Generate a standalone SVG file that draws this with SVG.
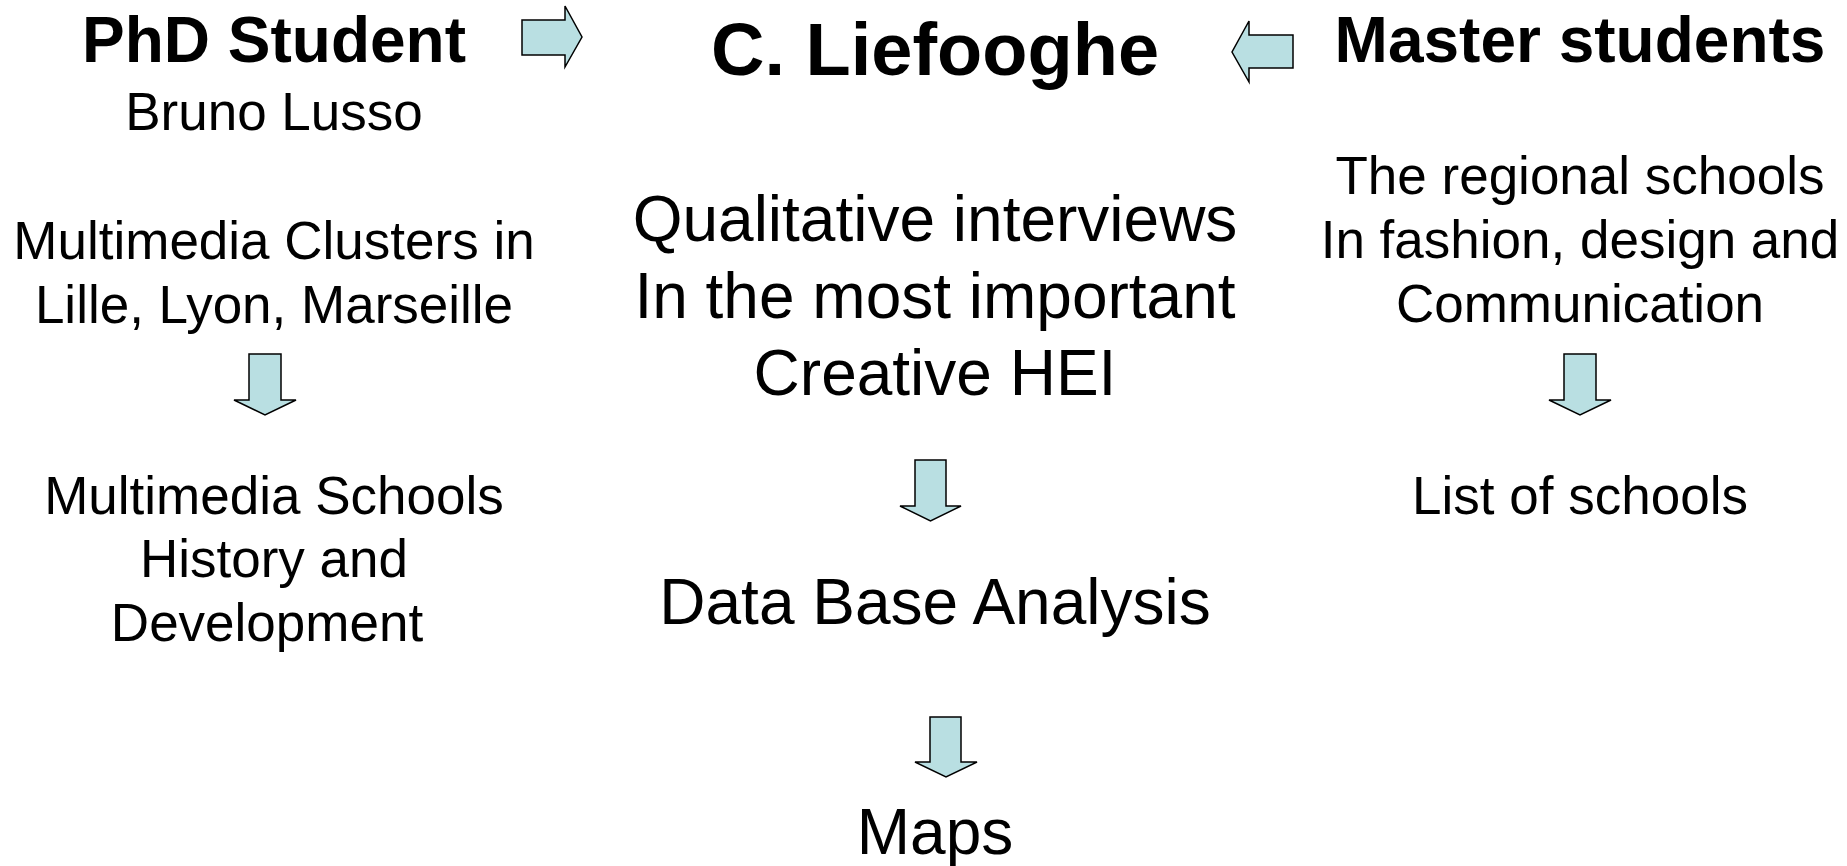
<svg xmlns="http://www.w3.org/2000/svg" width="1847" height="866" viewBox="0 0 1847 866">
<style>
text{font-family:"Liberation Sans",Arial,sans-serif;fill:#000;text-anchor:middle}
.h{font-weight:bold;font-size:64px}
.t{font-weight:bold;font-size:74px}
.b{font-size:53px}
.c{font-size:64px}
.arr{fill:#B9DFE2;stroke:#000;stroke-width:1.5;stroke-linejoin:miter}
</style>
<rect width="1847" height="866" fill="#fff"/>
<g id="phd">
<text class="h" x="274" y="62">PhD Student</text>
<text class="b" x="274" y="130">Bruno Lusso</text>
</g>
<g id="liefooghe">
<text class="t" x="935" y="75">C. Liefooghe</text>
</g>
<g id="master">
<text class="h" x="1580" y="62">Master students</text>
</g>
<g id="clusters">
<text class="b" x="274" y="259">Multimedia Clusters in</text>
<text class="b" x="274" y="323">Lille, Lyon, Marseille</text>
</g>
<g id="mschools">
<text class="b" x="274" y="514">Multimedia Schools</text>
<text class="b" x="274" y="577">History and</text>
<text class="b" x="267" y="641">Development</text>
</g>
<g id="interviews">
<text class="c" x="935" y="241">Qualitative interviews</text>
<text class="c" x="935" y="318">In the most important</text>
<text class="c" x="935" y="395">Creative HEI</text>
</g>
<g id="database">
<text class="c" x="935" y="624">Data Base Analysis</text>
</g>
<g id="maps">
<text class="c" x="935" y="854">Maps</text>
</g>
<g id="regional">
<text class="b" x="1580" y="194">The regional schools</text>
<text class="b" x="1580" y="258">In fashion, design and</text>
<text class="b" x="1580" y="322">Communication</text>
</g>
<g id="list">
<text class="b" x="1580" y="514">List of schools</text>
</g>
<g id="connectors">
<path class="arr" d="M522,20 H565 V6 L582,37 L565,67 V55 H522 Z"/>
<path class="arr" d="M1293,35 H1249 V21 L1232,52 L1249,82 V68 H1293 Z"/>
<path class="arr" d="M249,354 H281 V400 H296 L265,415 L234,400 H249 Z"/>
<path class="arr" d="M1564,354 H1596 V400 H1611 L1580,415 L1549,400 H1564 Z"/>
<path class="arr" d="M915,460 H946 V506 H961 L930.5,521 L900,506 H915 Z"/>
<path class="arr" d="M930,717 H961 V762 H977 L946,777 L915,762 H930 Z"/>
</g>
</svg>
